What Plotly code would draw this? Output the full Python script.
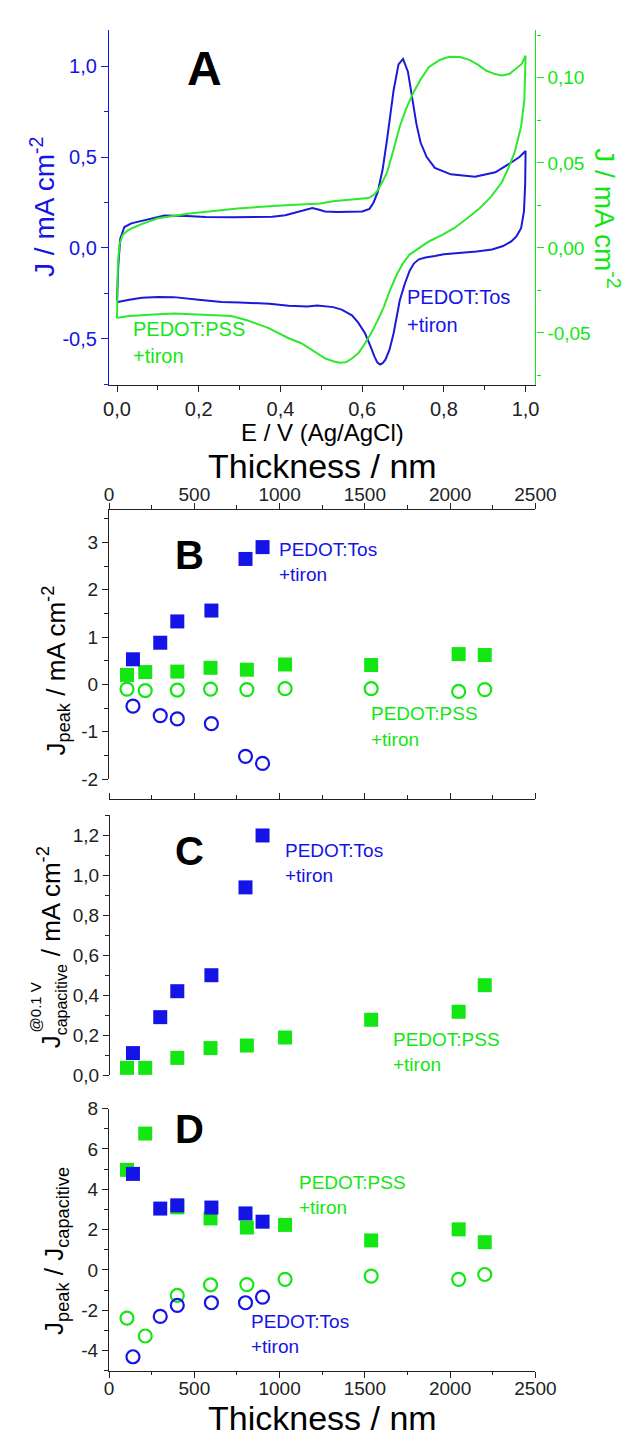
import plotly.graph_objects as go

# ---------------- Panel A : cyclic voltammograms ----------------
E_tos_fwd = [0.0, 0.003, 0.008, 0.018, 0.035, 0.053, 0.08, 0.116, 0.17, 0.217, 0.28, 0.334, 0.38, 0.412,
             0.445, 0.466, 0.478, 0.495, 0.509, 0.54, 0.568, 0.6, 0.618, 0.628, 0.638, 0.65, 0.661, 0.677,
             0.689, 0.700, 0.712, 0.724, 0.733, 0.743, 0.758, 0.778, 0.817, 0.876, 0.926, 0.965, 0.985, 1.0]
J_tos_fwd = [-0.29, -0.1, 0.05, 0.115, 0.135, 0.145, 0.16, 0.178, 0.175, 0.17, 0.168, 0.17, 0.172, 0.18,
             0.198, 0.213, 0.22, 0.21, 0.2, 0.198, 0.198, 0.2, 0.215, 0.25, 0.307, 0.43, 0.597, 0.868,
             1.01, 1.04, 0.97, 0.81, 0.68, 0.58, 0.5, 0.44, 0.405, 0.392, 0.416, 0.47, 0.5, 0.533]
E_tos_rev = [1.0, 0.999, 0.996, 0.989, 0.978, 0.965, 0.945, 0.918, 0.88, 0.841, 0.8, 0.778, 0.755, 0.739,
             0.727, 0.716, 0.704, 0.692, 0.684, 0.677, 0.667, 0.657, 0.65, 0.644, 0.637, 0.630, 0.62, 0.607,
             0.59, 0.575, 0.55, 0.529, 0.49, 0.466, 0.42, 0.373, 0.3, 0.256, 0.2, 0.139, 0.1, 0.061, 0.03, 0.002]
J_tos_rev = [0.533, 0.35, 0.2, 0.108, 0.065, 0.036, 0.01, -0.009, -0.02, -0.027, -0.035, -0.045, -0.053, -0.063,
             -0.085, -0.127, -0.2, -0.29, -0.38, -0.47, -0.56, -0.615, -0.635, -0.642, -0.63, -0.597, -0.54, -0.47,
             -0.41, -0.371, -0.34, -0.326, -0.317, -0.322, -0.318, -0.308, -0.30, -0.298, -0.285, -0.271, -0.27,
             -0.275, -0.285, -0.298]
E_pss_fwd = [0.0, 0.002, 0.006, 0.014, 0.025, 0.037, 0.06, 0.1, 0.178, 0.295, 0.412, 0.498, 0.529, 0.58, 0.615,
             0.628, 0.638, 0.65, 0.661, 0.676, 0.692, 0.708, 0.724, 0.743, 0.763, 0.79, 0.813, 0.84, 0.864, 0.885,
             0.903, 0.925, 0.942, 0.96, 0.977, 0.99, 1.0]
J_pss_fwd = [-0.0415, -0.01, 0.002, 0.0077, 0.0100, 0.0116, 0.014, 0.0174, 0.0203, 0.0232, 0.0251, 0.0261, 0.0274,
             0.0285, 0.0293, 0.031, 0.0338, 0.039, 0.0444, 0.057, 0.0714, 0.082, 0.0907, 0.099, 0.1062, 0.1105,
             0.1124, 0.1122, 0.1104, 0.1075, 0.1043, 0.1022, 0.1014, 0.1022, 0.1052, 0.108, 0.113]
E_pss_rev = [1.0, 0.999, 0.997, 0.989, 0.973, 0.958, 0.942, 0.915, 0.887, 0.855, 0.825, 0.795, 0.763, 0.74, 0.716,
             0.7, 0.685, 0.668, 0.653, 0.637, 0.622, 0.606, 0.591, 0.575, 0.560, 0.545, 0.529, 0.51, 0.49, 0.47,
             0.451, 0.42, 0.37, 0.318, 0.28, 0.240, 0.19, 0.139, 0.1, 0.061, 0.03, 0.002]
J_pss_rev = [0.113, 0.10, 0.087, 0.0714, 0.056, 0.047, 0.0386, 0.03, 0.0232, 0.017, 0.0116, 0.0075, 0.0038, 0.0,
             -0.0039, -0.009, -0.0155, -0.025, -0.0348, -0.043, -0.0502, -0.0565, -0.0618, -0.065, -0.0672, -0.0675,
             -0.0666, -0.065, -0.0618, -0.059, -0.056, -0.0531, -0.047, -0.0425, -0.040, -0.0396, -0.039, -0.0386,
             -0.039, -0.0396, -0.040, -0.041]

# ---------------- Panels B-D : thickness dependence ----------------
thk_tos = [140, 300, 400, 600, 800, 900]
thk_pss = [105, 212, 400, 595, 808, 1032, 1537, 2050, 2203]
B_tos_ox = [0.53, 0.88, 1.33, 1.56, 2.65, 2.90]
B_tos_red = [-0.46, -0.66, -0.73, -0.83, -1.52, -1.67]
B_pss_ox = [0.20, 0.26, 0.27, 0.35, 0.31, 0.42, 0.41, 0.64, 0.62]
B_pss_red = [-0.10, -0.13, -0.12, -0.10, -0.11, -0.09, -0.09, -0.15, -0.11]
C_tos = [0.11, 0.29, 0.42, 0.50, 0.94, 1.20]
C_pss = [0.036, 0.036, 0.086, 0.135, 0.148, 0.188, 0.277, 0.317, 0.45]
D_tos_ox = [4.76, 3.04, 3.20, 3.09, 2.80, 2.39]
D_tos_red = [-4.31, -2.31, -1.76, -1.63, -1.63, -1.35]
D_pss_ox = [4.96, 6.76, 3.10, 2.55, 2.10, 2.23, 1.46, 2.01, 1.37]
D_pss_red = [-2.39, -3.28, -1.27, -0.74, -0.73, -0.47, -0.31, -0.47, -0.23]

# tick labels
E_tickvals = [0.0, 0.2, 0.4, 0.6, 0.8, 1.0]
E_ticktext = ["0,0", "0,2", "0,4", "0,6", "0,8", "1,0"]
JA_tickvals = [-0.5, 0.0, 0.5, 1.0]
JA_ticktext = ["-0,5", "0,0", "0,5", "1,0"]
JA2_tickvals = [-0.05, 0.0, 0.05, 0.10]
JA2_ticktext = ["-0,05", "0,00", "0,05", "0,10"]
T_tickvals = [0, 500, 1000, 1500, 2000, 2500]
T_ticktext = ["0", "500", "1000", "1500", "2000", "2500"]
B_tickvals = [-2, -1, 0, 1, 2, 3]
B_ticktext = ["-2", "-1", "0", "1", "2", "3"]
C_tickvals = [0.0, 0.2, 0.4, 0.6, 0.8, 1.0, 1.2]
C_ticktext = ["0,0", "0,2", "0,4", "0,6", "0,8", "1,0", "1,2"]
D_tickvals = [-4, -2, 0, 2, 4, 6, 8]
D_ticktext = ["-4", "-2", "0", "2", "4", "6", "8"]

BLUE = "#1414e6"
GREEN = "#14e614"
BLUE_L = "#1a1ad8"
GREEN_L = "#2ee82e"
FONT = "Liberation Sans"
W, H = 636, 1440


def px_x(p):
    return p / W


def px_y(p):
    return 1 - p / H


XD = [px_x(99.3), px_x(544.5)]
A_D = [px_y(372.3), px_y(11.7)]
B_D = [px_y(772.3), px_y(499.0)]
C_D = [px_y(1072.7), px_y(809.3)]
D_D = [px_y(1372.7), px_y(1106.7)]
SEP1 = px_y(792.7)
SEP2 = px_y(1089.0)

fig = go.Figure()

# Panel A traces
fig.add_trace(go.Scatter(x=E_tos_fwd + E_tos_rev, y=J_tos_fwd + J_tos_rev, mode="lines",
                         line=dict(color=BLUE_L, width=2), xaxis="x", yaxis="y"))
fig.add_trace(go.Scatter(x=E_pss_fwd + E_pss_rev, y=J_pss_fwd + J_pss_rev, mode="lines",
                         line=dict(color=GREEN_L, width=2), xaxis="x", yaxis="y2"))

sq = dict(symbol="square", size=14)
circ = dict(symbol="circle-open", size=13)


def pts(x, y, color, m, xa, ya):
    mk = dict(m)
    mk["color"] = color
    if m["symbol"] == "circle-open":
        mk["line"] = dict(width=2.2, color=color)
    else:
        mk["line"] = dict(width=0)
    fig.add_trace(go.Scatter(x=x, y=y, mode="markers", marker=mk, xaxis=xa, yaxis=ya, cliponaxis=False))


# Panel B
pts(thk_pss, B_pss_ox, GREEN, sq, "x3", "y3")
pts(thk_pss, B_pss_red, GREEN, circ, "x3", "y3")
pts(thk_tos, B_tos_ox, BLUE, sq, "x3", "y3")
pts(thk_tos, B_tos_red, BLUE, circ, "x3", "y3")
# Panel C
pts(thk_pss, C_pss, GREEN, sq, "x5", "y5")
pts(thk_tos, C_tos, BLUE, sq, "x5", "y5")
# Panel D
pts(thk_pss, D_pss_ox, GREEN, sq, "x6", "y7")
pts(thk_pss, D_pss_red, GREEN, circ, "x6", "y7")
pts(thk_tos, D_tos_ox, BLUE, sq, "x6", "y7")
pts(thk_tos, D_tos_red, BLUE, circ, "x6", "y7")

BASE = dict(showgrid=False, zeroline=False, showline=True, linewidth=1.4, ticklen=6, tickwidth=1.3)
TK = "#222222"


def minor(d, tk, color=TK, ln=3.5):
    return dict(dtick=d, tick0=0, ticks=tk, ticklen=ln, tickwidth=1.2, tickcolor=color)


tfont = dict(family=FONT, size=19, color=TK)

layout_axes = dict(
    xaxis=dict(BASE, domain=XD, anchor="y", range=[-0.0194, 1.024], tickmode="array", tickvals=E_tickvals,
               ticktext=E_ticktext, ticks="outside", linecolor=TK, tickcolor=TK,
               tickfont=dict(family=FONT, size=20, color=TK), minor=minor(0.1, "outside")),
    xaxis2=dict(BASE, overlaying="x", side="top", anchor="y", range=[-0.0194, 1.024], tickmode="array",
                tickvals=E_tickvals, showticklabels=False, ticks="inside", linecolor=TK, tickcolor=TK,
                minor=minor(0.1, "inside")),
    yaxis=dict(BASE, domain=A_D, anchor="x", range=[-0.754, 1.202], tickmode="array", tickvals=JA_tickvals,
               ticktext=JA_ticktext, ticks="outside", ticklen=7, linecolor=BLUE, tickcolor=BLUE,
               tickfont=dict(family=FONT, size=20, color=BLUE), minor=minor(0.25, "outside", BLUE, 4)),
    yaxis2=dict(BASE, overlaying="y", side="right", anchor="x", range=[-0.0805, 0.1284], tickmode="array",
                tickvals=JA2_tickvals, ticktext=JA2_ticktext, ticks="outside", ticklen=7, linecolor=GREEN,
                tickcolor=GREEN, tickfont=dict(family=FONT, size=19, color=GREEN),
                minor=minor(0.025, "outside", GREEN, 4)),
    # B
    xaxis3=dict(BASE, domain=XD, anchor="y3", side="top", range=[0, 2500], tickmode="array", tickvals=T_tickvals,
                ticktext=T_ticktext, ticks="outside", linecolor=TK, tickcolor=TK, tickfont=tfont,
                ticklabelstandoff=-6, minor=minor(250, "outside")),
    yaxis3=dict(BASE, domain=B_D, anchor="x3", range=[-2, 3.69], tickmode="array", tickvals=B_tickvals,
                ticktext=B_ticktext, ticks="outside", linecolor=TK, tickcolor=TK, tickfont=tfont,
                minor=minor(0.5, "outside")),
    yaxis4=dict(BASE, overlaying="y3", side="right", anchor="x3", range=[-2, 3.69], tickmode="array",
                tickvals=B_tickvals, showticklabels=False, ticks="inside", linecolor=TK, tickcolor=TK,
                minor=minor(0.5, "inside")),
    xaxis4=dict(BASE, overlaying="x3", anchor="free", position=SEP1, side="bottom", range=[0, 2500],
                tickmode="array", tickvals=T_tickvals, showticklabels=False, ticks="outside", linecolor=TK,
                tickcolor=TK, minor=minor(250, "outside")),
    # C
    xaxis5=dict(BASE, domain=XD, anchor="free", position=SEP1, side="top", range=[0, 2500], tickmode="array",
                tickvals=T_tickvals, showticklabels=False, ticks="outside", linecolor=TK, tickcolor=TK,
                minor=minor(250, "outside")),
    yaxis5=dict(BASE, domain=C_D, anchor="free", position=XD[0], side="left", range=[0, 1.30], tickmode="array",
                tickvals=C_tickvals, ticktext=C_ticktext, ticks="outside", linecolor=TK, tickcolor=TK,
                tickfont=tfont, minor=minor(0.1, "outside")),
    yaxis6=dict(BASE, overlaying="y5", anchor="free", position=XD[1], side="right", range=[0, 1.30],
                tickmode="array", tickvals=C_tickvals, showticklabels=False, ticks="inside", linecolor=TK,
                tickcolor=TK, minor=minor(0.1, "inside")),
    xaxis7=dict(BASE, overlaying="x5", anchor="free", position=SEP2, side="bottom", range=[0, 2500],
                tickmode="array", tickvals=T_tickvals, showticklabels=False, ticks="outside", linecolor=TK,
                tickcolor=TK, minor=minor(250, "outside")),
    # D
    xaxis6=dict(BASE, domain=XD, anchor="y7", side="bottom", range=[0, 2500], tickmode="array",
                tickvals=T_tickvals, ticktext=T_ticktext, ticks="outside", linecolor=TK, tickcolor=TK,
                tickfont=tfont, ticklabelstandoff=-6, minor=minor(250, "outside")),
    yaxis7=dict(BASE, domain=D_D, anchor="x6", range=[-5, 8], tickmode="array", tickvals=D_tickvals,
                ticktext=D_ticktext, ticks="outside", linecolor=TK, tickcolor=TK, tickfont=tfont,
                minor=minor(1, "outside")),
    yaxis8=dict(BASE, overlaying="y7", side="right", anchor="x6", range=[-5, 8], tickmode="array",
                tickvals=D_tickvals, showticklabels=False, ticks="inside", linecolor=TK, tickcolor=TK,
                minor=minor(1, "inside")),
    xaxis8=dict(BASE, overlaying="x6", anchor="free", position=SEP2, side="top", range=[0, 2500],
                tickmode="array", tickvals=T_tickvals, showticklabels=False, ticks="outside", linecolor=TK,
                tickcolor=TK, minor=minor(250, "outside")),
)

ann = []


def note(text, x, y, xref, yref, size, color, xanchor="left", yanchor="middle", angle=0, bold=False):
    ann.append(dict(text=("<b>%s</b>" % text) if bold else text, x=x, y=y, xref=xref, yref=yref,
                    showarrow=False, xanchor=xanchor, yanchor=yanchor, textangle=angle, borderpad=0,
                    font=dict(family=FONT, size=size, color=color)))


# panel letters
note("A", 0.215, 0.99, "x", "y", 48, "black", "center", bold=True)
note("B", 470, 2.74, "x3", "y3", 40, "black", "center", bold=True)
note("C", 470, 1.12, "x5", "y5", 40, "black", "center", bold=True)
note("D", 470, 7.0, "x6", "y7", 40, "black", "center", bold=True)

# series labels
note("PEDOT:PSS", 0.037, -0.448, "x", "y", 20, GREEN)
note("+tiron", 0.037, -0.596, "x", "y", 20, GREEN)
note("PEDOT:Tos", 0.708, -0.271, "x", "y", 20, BLUE)
note("+tiron", 0.708, -0.425, "x", "y", 20, BLUE)

note("PEDOT:Tos", 993, 2.84, "x3", "y3", 19, BLUE)
note("+tiron", 993, 2.32, "x3", "y3", 19, BLUE)
note("PEDOT:PSS", 1530, -0.62, "x3", "y3", 19, GREEN)
note("+tiron", 1530, -1.16, "x3", "y3", 19, GREEN)

note("PEDOT:Tos", 1023, 1.126, "x5", "y5", 19, BLUE)
note("+tiron", 1023, 1.0, "x5", "y5", 19, BLUE)
note("PEDOT:PSS", 1659, 0.177, "x5", "y5", 19, GREEN)
note("+tiron", 1659, 0.051, "x5", "y5", 19, GREEN)

note("PEDOT:PSS", 1109, 4.35, "x6", "y7", 19, GREEN)
note("+tiron", 1109, 3.09, "x6", "y7", 19, GREEN)
note("PEDOT:Tos", 825, -2.57, "x6", "y7", 19, BLUE)
note("+tiron", 825, -3.79, "x6", "y7", 19, BLUE)

# axis titles
note("E / V (Ag/AgCl)", px_x(322), px_y(420.5), "paper", "paper", 24, "black", "center")
note("Thickness / nm", px_x(322), px_y(454.5), "paper", "paper", 34, "black", "center")
note("Thickness / nm", px_x(322), px_y(1421), "paper", "paper", 34, "black", "center")
note("J / mA cm<sup>-2</sup>", px_x(30), px_y(192), "paper", "paper", 28, BLUE, "center", "middle", -90)
note("J / mA cm<sup>-2</sup>", px_x(619), px_y(203), "paper", "paper", 28, GREEN, "center", "middle", 90)
note("J<sub>peak</sub> / mA cm<sup>-2</sup>", px_x(44), px_y(662), "paper", "paper", 26, "black", "center",
     "middle", -90)
# C title built from stacked pieces
note("J", px_x(38), px_y(1039), "paper", "paper", 26, "black", "center", "middle", -90)
note("capacitive", px_x(50), px_y(996), "paper", "paper", 16, "black", "center", "middle", -90)
note("@0.1 V", px_x(22), px_y(1004), "paper", "paper", 15, "black", "center", "middle", -90)
note("/ mA cm<sup>-2</sup>", px_x(38), px_y(896), "paper", "paper", 26, "black", "center", "middle", -90)
note("J<sub>peak</sub> / J<sub>capacitive</sub>", px_x(44), px_y(1251), "paper", "paper", 26, "black",
     "center", "middle", -90)

fig.update_layout(width=W, height=H, margin=dict(l=0, r=0, t=0, b=0), showlegend=False,
                  plot_bgcolor="white", paper_bgcolor="white", font=dict(family=FONT, color=TK),
                  annotations=ann, **layout_axes)

fig.write_html("out.html")
